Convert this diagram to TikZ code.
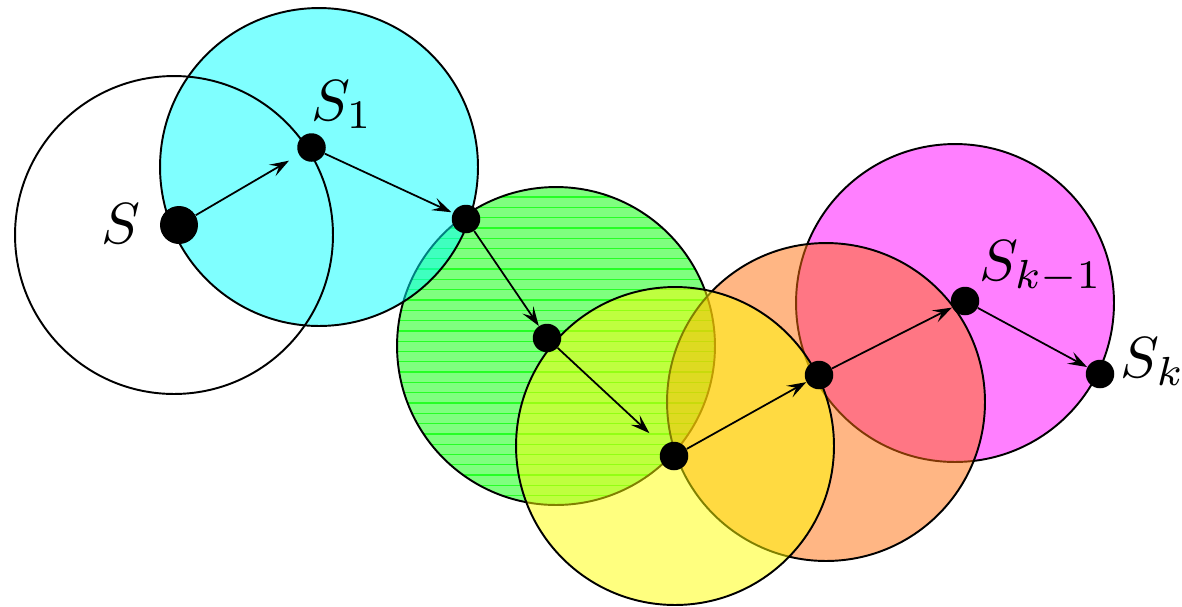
\documentclass[tikz,border=0pt]{standalone}
\usetikzlibrary{arrows.meta}
\definecolor{cy}{RGB}{0,255,255}
\definecolor{mag}{RGB}{255,0,255}
\definecolor{org}{RGB}{255,110,10}
\definecolor{yel}{RGB}{255,255,0}
\definecolor{grn}{RGB}{0,255,0}
\begin{document}
\begin{tikzpicture}[x=0.02cm,y=-0.02cm,
  ring/.style={line width=1.1pt},
  disk/.style={ring,fill opacity=0.5,draw opacity=1},
  dot/.style={circle,fill=black,inner sep=0pt,minimum size=0.57cm},
  bigdot/.style={circle,fill=black,inner sep=0pt,minimum size=0.76cm},
  arr/.style={line width=1pt,-{Stealth[length=11pt,width=7.5pt,inset=4.5pt]}},
  lbl/.style={scale=3.3,inner sep=0pt,anchor=base},
  hatch/.style={grn,opacity=0.7,line width=0.7pt}]
\useasboundingbox (0,0) rectangle (1182,606);
% green disk with horizontal lines
\fill[grn,fill opacity=0.5] (556,346) circle[radius=3.18cm];
\begin{scope}
  \clip (556,346) circle[radius=3.18cm];
  \foreach \k in {0,...,31} \draw[hatch] (390,{197+10.3*\k}) -- (720,{197+10.3*\k});
\end{scope}
\draw[ring] (556,346) circle[radius=3.18cm];
% cyan
\filldraw[disk,fill=cy] (319,167) circle[radius=3.18cm];
% white
\draw[ring] (174,235) circle[radius=3.18cm];
% magenta
\filldraw[disk,fill=mag] (955,303) circle[radius=3.18cm];
% orange
\filldraw[disk,fill=org] (826,402) circle[radius=3.18cm];
% yellow
\filldraw[disk,fill=yel] (675,446) circle[radius=3.18cm];
% points
\node[bigdot] (s) at (179,225) {};
\node[dot] (s1) at (311.5,147.5) {};
\node[dot] (p2) at (466,219) {};
\node[dot] (p3) at (547,338) {};
\node[dot] (p4) at (674,456) {};
\node[dot] (p5) at (819,375) {};
\node[dot] (sk1) at (965,301) {};
\node[dot] (sk) at (1100,374) {};
% arrows
\draw[arr,shorten >=0.23cm] (s) -- (s1);
\draw[arr,shorten >=0.03cm] (s1) -- (p2);
\draw[arr] (p2) -- (p3);
\draw[arr,shorten >=0.38cm] (p3) -- (p4);
\draw[arr] (p4) -- (p5);
\draw[arr] (p5) -- (sk1);
\draw[arr] (sk1) -- (sk);
% labels
\node[lbl] (ls) at (121,243) {$S$};
\node[lbl] (ls1) at (342,120) {$S_1$};
\node[lbl] (lsk1) at (1041,280) {$S_{k-1}$};
\node[lbl] (lsk) at (1153,377) {$S_k$};
\end{tikzpicture}
\end{document}
